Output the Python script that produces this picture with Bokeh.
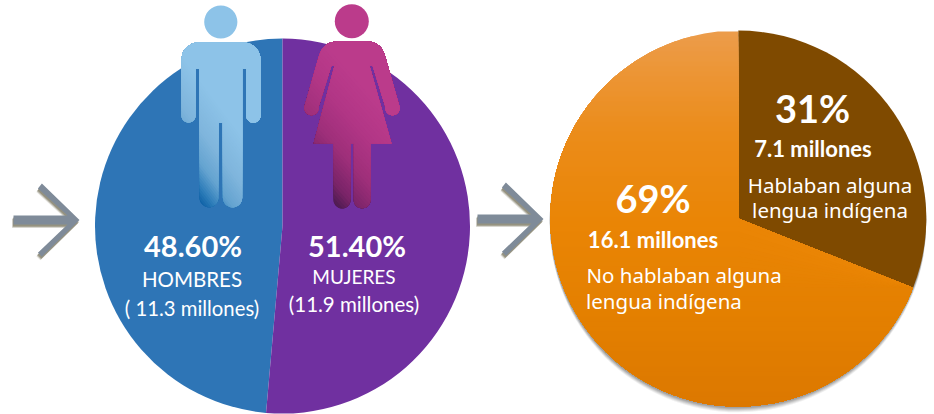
import numpy as np
from bokeh.plotting import figure
from bokeh.models import Range1d
from bokeh.core.properties import value
from bokeh.embed import file_html
from bokeh.resources import INLINE

# ---------- data ----------
sexo_categories = ["HOMBRES", "MUJERES"]
sexo_shares = [48.6, 51.4]
sexo_colors = ["#2E75B6", "#7030A0"]
lengua_categories = ["Hablaban alguna lengua indígena", "No hablaban alguna lengua indígena"]
lengua_shares = [31, 69]
lengua_brown = "#7F4A00"
orange_stops = [(31, "#EC9C4A"), (70, "#EC9535"), (130, "#EB8C1A"), (220, "#EA8505"), (320, "#E37F00"), (406, "#DC7800")]

W, H = 934, 414
p = figure(width=W, height=H, output_backend="svg", toolbar_location=None,
           x_range=Range1d(0, W), y_range=Range1d(H, 0),
           x_axis_location=None, y_axis_location=None, min_border=0,
           outline_line_color=None, background_fill_color="white", border_fill_color="white")
p.grid.visible = False


def hexrgb(c):
    return np.array([int(c[i:i + 2], 16) for i in (1, 3, 5)], float)


def ramp(stops, t):
    ts = [s[0] for s in stops]
    cs = np.array([hexrgb(s[1]) for s in stops])
    rgb = [np.interp(t, ts, cs[:, i]) for i in range(3)]
    return "#%02X%02X%02X" % tuple(int(round(v)) for v in rgb)


def clip(poly, u, d):
    """Keep the part of a polygon with dot(pt, u) >= d."""
    out = []
    n = len(poly)
    for i in range(n):
        a, b = np.array(poly[i]), np.array(poly[(i + 1) % n])
        da, db = a @ u - d, b @ u - d
        if da >= 0:
            out.append(a)
        if da * db < 0:
            out.append(a + (b - a) * da / (da - db))
    return out


def gradient_patch(poly, origin, u, stops, n=36):
    u = np.array(u, float)
    u /= np.linalg.norm(u)
    o = np.array(origin) @ u
    for t in np.linspace(stops[0][0], stops[-1][0], n):
        part = clip(poly, u, o + t)
        if len(part) >= 3:
            part = np.array(part)
            p.patch(part[:, 0], part[:, 1], fill_color=ramp(stops, t), line_color=None)


def arc(cx, cy, r, a0, a1, n=14):
    a = np.radians(np.linspace(a0, a1, n))
    return [(cx + r * np.cos(v), cy + r * np.sin(v)) for v in a]


def bez(a, c, b, n=10):
    return [((1 - t) ** 2 * a[0] + 2 * t * (1 - t) * c[0] + t ** 2 * b[0],
             (1 - t) ** 2 * a[1] + 2 * t * (1 - t) * c[1] + t ** 2 * b[1]) for t in np.linspace(0, 1, n)]


# ---------- left pie ----------
lx, ly, lr = 282, 225.6, 187.5
frac = np.cumsum([0] + sexo_shares) / 100 * 2 * np.pi + np.pi / 2
for i in range(2):
    p.wedge(lx, ly, radius=lr, start_angle=frac[i], end_angle=frac[i + 1], direction="anticlock",
            fill_color=sexo_colors[i], line_color=None)

# ---------- right pie ----------
rx, ry, rr = 737.8, 218, 188
for k, a in zip((5.5, 4.5, 3.5, 2.5, 1.5), (0.10, 0.14, 0.18, 0.22, 0.28)):
    p.circle(rx - 0.3, ry + k, radius=rr + 0.3, fill_color="#707070", fill_alpha=a, line_color=None)
brown_angle = lengua_shares[0] / 100 * 2 * np.pi
p.wedge(rx, ry, radius=rr, start_angle=np.pi / 2 - brown_angle, end_angle=np.pi / 2, direction="anticlock",
        fill_color=lengua_brown, line_color=None)
theta = np.linspace(np.pi / 2, np.pi / 2 + lengua_shares[1] / 100 * 2 * np.pi, 240)
ox = np.r_[rx, rx + rr * np.cos(theta)]
oy = np.r_[ry, ry - rr * np.sin(theta)]
for y0 in np.arange(31, 406, 5):
    p.patch(ox, np.maximum(oy, y0), fill_color=ramp(orange_stops, y0), line_color=None)

# ---------- arrows ----------
arrow = np.array([(0, 0), (-37.6, 36.7), (-41.6, 32.7), (-12, 4.5), (-66, 4.5), (-66, -4.5),
                  (-12, -4.5), (-41.6, -31.5), (-37.6, -36.5)])
for tx, ty in ((79, 219.5), (543, 218.5)):
    for dx, dy, a in ((-1.5, 3.5, .18), (-1, 2.8, .3), (-.5, 2, .4)):
        p.patch(arrow[:, 0] + tx + dx, arrow[:, 1] + ty + dy, fill_color="#5E5B3E", fill_alpha=a, line_color=None)
    p.patch(arrow[:, 0] + tx, arrow[:, 1] + ty, fill_color="#7F8B99", line_color=None)

# ---------- man ----------
man = (arc(198, 59, 17, 180, 270) + arc(243, 59, 17, 270, 360)
       + [(260, 115)] + arc(252.85, 115, 7.15, 0, 180) + [(245.7, 68), (241.7, 68)]
       + arc(232, 197.3, 9.7, 0, 180) + [(222.3, 122), (218, 122)]
       + arc(208.5, 197.3, 9.5, 0, 180) + [(199, 68), (195, 68)]
       + arc(188, 115, 7, 0, 180))
gradient_patch(man, (200, 207), (0.8, -0.6),
               [(0, "#0A5DA3"), (10, "#2B7BB8"), (25, "#64A3D0"), (45, "#7FB5DC"), (75, "#8DC3E8")])
p.circle(220.3, 21.5, radius=16.6, fill_color="#8DC3E8", line_color=None)

# ---------- woman ----------
woman = (bez((318, 57), (322, 41), (337, 41)) + bez((367, 41), (381, 41), (385, 57))
         + [(399, 106)] + arc(392, 107.5, 7.3, -10, 190) + [(372, 65), (369, 65), (391, 143), (370, 143)]
         + arc(361.6, 199.5, 8.4, 0, 180) + [(353.3, 143), (350, 143)]
         + arc(341.5, 199.5, 8.5, 0, 180) + [(333, 143), (313, 143), (334, 65), (331, 65)]
         + arc(311, 107.5, 7.3, -10, 190))
gradient_patch(woman, (334, 207), (0.75, -0.66),
               [(0, "#4A1A4F"), (15, "#7A2468"), (40, "#9E2F7A"), (70, "#B23686"), (100, "#BB3B8B")])
p.circle(351.3, 20.7, radius=17, fill_color="#BB3B8B", line_color=None)

# ---------- texts ----------
labels = [
    ("48.60%", 192.5, 245, "bold", 29), ("HOMBRES", 191.5, 278, "normal", 20.5), ("( 11.3 millones)", 191.5, 307.5, "normal", 20.3),
    ("51.40%", 356.5, 245, "bold", 29), ("MUJERES", 353.5, 276, "normal", 19), ("(11.9 millones)", 353.5, 303.5, "normal", 20.5),
    ("31%", 812, 107.5, "bold", 38), ("7.1 millones", 812.5, 147.5, "bold", 22),
    ("69%", 652.5, 197.5, "bold", 38), ("16.1 millones", 652.5, 238.5, "bold", 22),
]
for t, x, y, w, s in labels:
    p.text([x], [y], text=[t], text_font=value("Lato"), text_font_style=w, text_font_size=f"{s}px",
           text_color="white", text_align="center", text_baseline="middle")
labels2 = [
    ("Hablaban alguna", 829.5, 184.5, "center"), ("lengua indígena", 829.5, 209.5, "center"),
    ("No hablaban alguna", 586, 274.5, "left"), ("lengua indígena", 585.5, 300.5, "left"),
]
for t, x, y, a in labels2:
    p.text([x], [y], text=[t], text_font=value("Noto Sans"), text_font_size="20.5px",
           text_color="white", text_align=a, text_baseline="middle")

open("out.html", "w").write(file_html(p, INLINE))
